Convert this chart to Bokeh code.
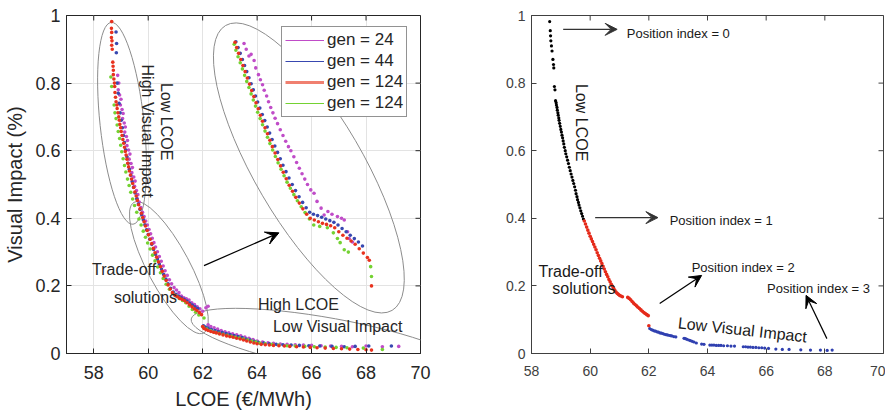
import math
from bokeh.plotting import figure
from bokeh.layouts import row
from bokeh.models import (Arrow, VeeHead, Label, FixedTicker, CustomJSTickFormatter,
                          Legend, LegendItem, Range1d, Title)
from bokeh.embed import file_html
from bokeh.resources import INLINE

FONT = "Liberation Sans"

# ---------------- data: left panel (LCOE in EUR/MWh, visual impact) ----------------
gen24_x = [58.88, 58.92, 58.90, 58.95, 59.00, 58.98, 59.04, 59.08, 59.06, 59.12, 59.16, 59.14, 59.20, 59.24, 59.22,
           59.28, 59.33, 59.30, 59.37, 59.42, 59.40, 59.47, 59.52, 59.50, 59.57, 59.62, 59.60, 59.67, 59.73, 59.79,
           59.85, 59.91, 59.97, 60.03, 60.09, 60.15, 60.21, 60.27, 60.34, 60.41, 60.48, 60.55, 60.62, 60.70, 60.78,
           60.86, 60.95, 61.04, 61.13, 61.22, 61.31, 61.40, 61.50, 61.60, 61.70, 61.80, 61.90, 62.00, 62.12, 62.20,
           62.20, 62.30, 62.42, 62.55, 62.68, 62.82, 62.96, 63.10, 63.25, 63.40, 63.55, 63.70, 63.85, 64.00, 64.20,
           64.40, 64.60, 64.85, 65.10, 65.40, 65.70, 66.00, 66.35, 66.70, 67.10, 67.50, 68.00, 68.60, 69.20]
gen24_y = [0.823, 0.800, 0.780, 0.765, 0.752, 0.735, 0.722, 0.710, 0.695, 0.682, 0.670, 0.655, 0.642, 0.630, 0.615,
           0.602, 0.590, 0.575, 0.562, 0.550, 0.535, 0.522, 0.510, 0.495, 0.482, 0.470, 0.458, 0.448, 0.432, 0.418,
           0.405, 0.392, 0.380, 0.367, 0.354, 0.341, 0.328, 0.315, 0.301, 0.287, 0.273, 0.259, 0.245, 0.231, 0.218,
           0.206, 0.195, 0.188, 0.180, 0.170, 0.165, 0.162, 0.158, 0.150, 0.145, 0.138, 0.132, 0.125, 0.135, 0.140,
           0.085, 0.080, 0.076, 0.072, 0.068, 0.064, 0.061, 0.058, 0.055, 0.052, 0.049, 0.045, 0.041, 0.037, 0.034,
           0.032, 0.030, 0.028, 0.027, 0.026, 0.025, 0.024, 0.023, 0.022, 0.021, 0.020, 0.022, 0.020, 0.021]

gen44_x = [58.82, 58.84, 58.83, 58.86, 58.90, 58.93, 58.97, 59.01, 59.05, 59.09, 59.13, 59.17, 59.22, 59.26, 59.31,
           59.36, 59.41, 59.46, 59.52, 59.58, 59.64, 59.70, 59.76, 59.82, 59.88, 59.94, 60.00, 60.06, 60.13, 60.20,
           60.27, 60.34, 60.41, 60.49, 60.57, 60.65, 60.73, 60.82, 60.92, 61.02, 61.12, 61.22, 61.32, 61.42, 61.52,
           61.62, 61.72, 61.82,
           62.03, 62.10, 62.20, 62.32, 62.45, 62.58, 62.72, 62.86, 63.00, 63.15, 63.30, 63.45, 63.60, 63.75, 63.90,
           64.05, 64.25, 64.45, 64.70, 64.95, 65.25, 65.55, 65.90, 66.30, 66.75, 67.20, 67.60, 68.10, 68.93]
gen44_y = [0.951, 0.917, 0.890, 0.800, 0.770, 0.740, 0.712, 0.690, 0.668, 0.645, 0.624, 0.603, 0.582, 0.563, 0.545,
           0.527, 0.509, 0.492, 0.475, 0.458, 0.442, 0.426, 0.411, 0.396, 0.381, 0.366, 0.352, 0.338, 0.323, 0.308,
           0.293, 0.279, 0.264, 0.249, 0.234, 0.220, 0.206, 0.193, 0.182, 0.175, 0.170, 0.165, 0.160, 0.155, 0.149,
           0.143, 0.138, 0.133,
           0.082, 0.078, 0.075, 0.071, 0.068, 0.065, 0.062, 0.059, 0.056, 0.053, 0.050, 0.047, 0.043, 0.040, 0.036,
           0.033, 0.031, 0.029, 0.027, 0.026, 0.025, 0.024, 0.023, 0.022, 0.021, 0.020, 0.021, 0.022, 0.022]

gen124_x = [58.66, 58.65, 58.66, 58.65, 58.67, 58.66, 58.68, 58.70, 58.71, 58.72, 58.72, 58.74, 58.76, 58.77, 58.78,
            58.80, 58.82, 58.85, 58.86, 58.89, 58.92, 58.94, 58.96, 58.99, 59.01, 59.04, 59.07, 59.10, 59.13, 59.16,
            59.19, 59.22, 59.25, 59.28, 59.31, 59.35, 59.39, 59.43, 59.47, 59.51, 59.56, 59.60, 59.65, 59.70, 59.75,
            59.80, 59.85, 59.90, 59.96, 60.01, 60.07, 60.13, 60.19, 60.25, 60.31, 60.38, 60.45, 60.52, 60.59, 60.66,
            60.73, 60.81, 60.89, 60.98, 61.07, 61.16, 61.25, 61.34, 61.43, 61.52, 61.61, 61.70, 61.79, 61.88, 61.96,
            62.00, 62.05, 62.12, 62.20, 62.30, 62.40, 62.50, 62.62, 62.75, 62.88, 63.00, 63.12, 63.25, 63.38, 63.50,
            63.62, 63.75, 63.88, 64.00, 64.15, 64.30, 64.45, 64.60, 64.80, 65.00, 65.20, 65.45, 65.70, 65.95, 66.20,
            66.50, 66.80, 67.10, 67.40, 67.70, 68.00, 68.20]
gen124_y = [0.982, 0.962, 0.950, 0.935, 0.925, 0.912, 0.900, 0.862, 0.850, 0.838, 0.825, 0.812, 0.800, 0.790, 0.772,
            0.758, 0.745, 0.735, 0.725, 0.712, 0.700, 0.690, 0.678, 0.668, 0.657, 0.645, 0.633, 0.622, 0.610, 0.598,
            0.587, 0.575, 0.563, 0.552, 0.540, 0.528, 0.516, 0.503, 0.491, 0.478, 0.466, 0.453, 0.440, 0.428, 0.415,
            0.402, 0.390, 0.377, 0.364, 0.351, 0.338, 0.325, 0.311, 0.298, 0.285, 0.271, 0.257, 0.243, 0.229, 0.216,
            0.203, 0.191, 0.180, 0.172, 0.168, 0.163, 0.160, 0.156, 0.150, 0.144, 0.138, 0.132, 0.127, 0.121, 0.115,
            0.080, 0.074, 0.071, 0.068, 0.065, 0.063, 0.061, 0.058, 0.055, 0.052, 0.050, 0.048, 0.045, 0.043, 0.040,
            0.037, 0.034, 0.031, 0.029, 0.027, 0.026, 0.025, 0.024, 0.023, 0.022, 0.021, 0.020, 0.019, 0.018, 0.017,
            0.016, 0.015, 0.014, 0.013, 0.012, 0.011, 0.010]

gen124b_x = [58.63, 58.66, 58.75, 58.78, 58.82, 58.86, 58.90, 58.95, 58.99, 59.03, 59.08, 59.13, 59.18, 59.24, 59.30,
             59.36, 59.43, 59.50, 59.58, 59.66, 59.74, 59.82, 59.90, 59.98, 60.07, 60.16, 60.25, 60.35, 60.45, 60.55,
             60.66, 60.78, 60.90, 61.02, 61.14, 61.26, 61.38, 61.50, 61.62, 61.74, 61.86, 62.05,
             62.02, 62.15, 62.30, 62.45, 62.60, 62.75, 62.90, 63.05, 63.20, 63.35, 63.50, 63.65, 63.80, 63.95, 64.10,
             64.30, 64.55, 64.80, 65.10, 65.40, 65.75, 66.10, 66.50, 66.90, 67.30, 67.90, 68.60]
gen124b_y = [0.818, 0.790, 0.735, 0.712, 0.695, 0.676, 0.657, 0.636, 0.616, 0.597, 0.576, 0.556, 0.537, 0.516, 0.497,
             0.477, 0.457, 0.438, 0.418, 0.398, 0.380, 0.362, 0.344, 0.327, 0.309, 0.291, 0.274, 0.256, 0.239, 0.222,
             0.205, 0.190, 0.178, 0.170, 0.163, 0.157, 0.150, 0.140, 0.130, 0.122, 0.114, 0.105,
             0.078, 0.072, 0.067, 0.063, 0.060, 0.057, 0.054, 0.051, 0.048, 0.046, 0.043, 0.040, 0.037, 0.034, 0.031,
             0.029, 0.027, 0.025, 0.023, 0.022, 0.021, 0.020, 0.019, 0.018, 0.017, 0.016, 0.012]

# magnified copy of the trade-off region (upper right of left panel)
zoom24_x = [63.52, 63.60, 63.70, 63.78, 63.89, 63.95, 64.05, 64.12, 64.20, 64.26, 64.35, 64.42, 64.50, 64.58, 64.66,
            64.75, 64.85, 64.95, 65.05, 65.15, 65.24, 65.35, 65.45, 65.55, 65.65, 65.75, 65.85, 65.97, 66.09, 66.20,
            66.35, 66.46, 66.60, 66.75, 66.95, 67.10, 67.20, 67.32, 67.38, 67.50]
zoom24_y = [0.917, 0.900, 0.880, 0.885, 0.867, 0.845, 0.825, 0.810, 0.795, 0.779, 0.762, 0.745, 0.728, 0.712, 0.696,
            0.680, 0.662, 0.645, 0.628, 0.612, 0.600, 0.582, 0.565, 0.548, 0.532, 0.516, 0.500, 0.484, 0.474, 0.450,
            0.430, 0.410, 0.420, 0.412, 0.405, 0.400, 0.395, 0.360, 0.340, 0.330]
zoom44_x = [63.22, 63.30, 63.38, 63.46, 63.54, 63.62, 63.70, 63.78, 63.86, 63.94, 64.02, 64.10, 64.19, 64.28, 64.37,
            64.46, 64.55, 64.65, 64.75, 64.85, 64.95, 65.06, 65.17, 65.29, 65.41, 65.54, 65.67, 65.80, 65.93, 66.07,
            66.22, 66.37, 66.52, 66.67, 66.82, 66.97, 67.12, 67.27, 67.42, 67.57, 67.72, 67.87]
zoom44_y = [0.922, 0.905, 0.888, 0.870, 0.852, 0.834, 0.816, 0.798, 0.780, 0.762, 0.744, 0.726, 0.707, 0.689, 0.670,
            0.652, 0.633, 0.614, 0.595, 0.576, 0.557, 0.538, 0.519, 0.500, 0.482, 0.464, 0.447, 0.431, 0.418, 0.412,
            0.408, 0.403, 0.398, 0.393, 0.388, 0.380, 0.370, 0.360, 0.350, 0.340, 0.330, 0.318]
zoom124_x = [63.19, 63.25, 63.32, 63.40, 63.48, 63.56, 63.64, 63.72, 63.80, 63.88, 63.96, 64.04, 64.12, 64.20, 64.29,
             64.38, 64.47, 64.56, 64.66, 64.76, 64.86, 64.96, 65.07, 65.18, 65.30, 65.42, 65.55, 65.68, 65.82, 65.95,
             66.10, 66.25, 66.40, 66.55, 66.70, 66.85, 67.00, 67.15, 67.30, 67.45, 67.60, 67.75, 67.90, 68.05, 68.12,
             68.20]
zoom124_y = [0.921, 0.905, 0.888, 0.870, 0.852, 0.834, 0.815, 0.797, 0.778, 0.760, 0.742, 0.724, 0.705, 0.687, 0.668,
             0.650, 0.631, 0.612, 0.593, 0.574, 0.555, 0.536, 0.517, 0.498, 0.480, 0.462, 0.445, 0.428, 0.412, 0.400,
             0.395, 0.390, 0.385, 0.382, 0.378, 0.372, 0.360, 0.350, 0.341, 0.333, 0.323, 0.310, 0.297, 0.284, 0.276,
             0.200]
zoom124b_x = [63.16, 63.22, 63.30, 63.38, 63.46, 63.54, 63.62, 63.70, 63.78, 63.86, 63.94, 64.02, 64.11, 64.20, 64.29,
              64.38, 64.47, 64.57, 64.67, 64.77, 64.88, 64.99, 65.10, 65.22, 65.35, 65.48, 65.62, 65.76, 65.92, 66.08,
              66.30, 66.58, 66.80, 66.95, 67.05, 67.20, 67.35, 68.17, 68.20]
zoom124b_y = [0.915, 0.897, 0.878, 0.860, 0.842, 0.823, 0.805, 0.787, 0.768, 0.750, 0.732, 0.714, 0.695, 0.677, 0.658,
              0.640, 0.621, 0.602, 0.583, 0.564, 0.545, 0.526, 0.507, 0.489, 0.470, 0.452, 0.434, 0.417, 0.398, 0.380,
              0.376, 0.372, 0.357, 0.340, 0.328, 0.307, 0.300, 0.257, 0.228]

legend_labels = ["gen = 24", "gen = 44", "gen = 124", "gen = 124"]

# ---------------- data: right panel (final front by position index) ----------------
pos0_x = [58.62, 58.64, 58.65, 58.66, 58.68, 58.70, 58.73, 58.75, 58.76, 58.78, 58.80, 58.82, 58.84, 58.85, 58.87,
          58.88, 58.90, 58.91, 58.93, 58.94, 58.96, 58.98, 59.00, 59.02, 59.04, 59.06, 59.08, 59.10, 59.12, 59.15,
          59.17, 59.20, 59.23, 59.26, 59.29, 59.32, 59.35, 59.38, 59.41, 59.44, 59.47, 59.50, 59.52, 59.55, 59.57,
          59.60, 59.62, 59.65, 59.68, 59.71, 59.74, 59.77]
pos0_y = [0.982, 0.955, 0.940, 0.925, 0.910, 0.895, 0.870, 0.855, 0.845, 0.790, 0.780, 0.748, 0.742, 0.735, 0.728,
          0.720, 0.712, 0.705, 0.697, 0.690, 0.681, 0.672, 0.663, 0.655, 0.646, 0.638, 0.629, 0.620, 0.610, 0.600,
          0.591, 0.582, 0.572, 0.562, 0.551, 0.541, 0.531, 0.522, 0.512, 0.503, 0.493, 0.483, 0.473, 0.464, 0.455,
          0.447, 0.439, 0.431, 0.422, 0.414, 0.406, 0.398]
pos1_x = [59.80, 59.84, 59.88, 59.92, 59.96, 60.00, 60.04, 60.08, 60.12, 60.16, 60.20, 60.24, 60.28, 60.32, 60.36,
          60.40, 60.44, 60.48, 60.52, 60.56, 60.60, 60.64, 60.68, 60.72, 60.76, 60.80, 60.84, 60.88, 60.92, 60.96,
          61.00, 61.05, 61.10, 61.28, 61.33, 61.38, 61.43, 61.48, 61.53, 61.58, 61.63, 61.68, 61.73, 61.78, 61.83,
          61.88, 61.93, 61.98, 62.00]
pos1_y = [0.392, 0.383, 0.374, 0.365, 0.356, 0.347, 0.339, 0.331, 0.323, 0.315, 0.307, 0.298, 0.290, 0.282, 0.274,
          0.266, 0.258, 0.250, 0.242, 0.234, 0.227, 0.219, 0.212, 0.205, 0.199, 0.193, 0.187, 0.182, 0.178, 0.175,
          0.172, 0.170, 0.168, 0.166, 0.163, 0.159, 0.154, 0.149, 0.145, 0.141, 0.137, 0.133, 0.129, 0.125, 0.121,
          0.118, 0.115, 0.112, 0.082]
pos23_x = [62.03, 62.08, 62.13, 62.18, 62.23, 62.28, 62.33, 62.38, 62.43, 62.48, 62.53, 62.58, 62.63, 62.68, 62.73,
           62.78, 62.85, 62.92, 63.20, 63.25, 63.30, 63.36, 63.42, 63.48, 63.54, 63.62, 63.80, 63.88, 64.08, 64.15,
           64.22, 64.30, 64.38, 64.46, 64.55, 64.68, 64.80, 64.92, 65.22, 65.30, 65.38, 65.46, 65.55, 65.65, 65.75,
           65.85, 65.95, 66.08, 66.33, 66.55, 66.78, 67.18, 67.51, 67.85, 68.08, 68.25]
pos23_y = [0.074, 0.071, 0.069, 0.067, 0.066, 0.064, 0.063, 0.061, 0.060, 0.059, 0.057, 0.056, 0.055, 0.054, 0.053,
           0.052, 0.050, 0.049, 0.045, 0.044, 0.042, 0.040, 0.038, 0.036, 0.034, 0.031, 0.028, 0.027, 0.025, 0.025,
           0.025, 0.024, 0.024, 0.024, 0.023, 0.023, 0.022, 0.022, 0.020, 0.020, 0.019, 0.019, 0.018, 0.018, 0.017,
           0.017, 0.016, 0.015, 0.013, 0.012, 0.012, 0.011, 0.010, 0.010, 0.009, 0.010]

x_ticks = [58, 60, 62, 64, 66, 68, 70]
y_ticks = [0, 0.2, 0.4, 0.6, 0.8, 1]

MAG = "#C04CC8"
BLUE = "#3848B0"
RED = "#E8321E"
GREEN = "#74D232"
AX = "#262626"
ELL = "#8C8C8C"

yfmt = CustomJSTickFormatter(code="return Number(tick.toFixed(1)).toString();")


def style_axes(p, color, tick_size, xmax, ymax):
    for ax in p.xaxis + p.yaxis:
        ax.major_tick_in = 5
        ax.major_tick_out = 0
        ax.minor_tick_line_color = None
        ax.axis_line_color = color
        ax.major_tick_line_color = color
        ax.major_label_text_color = color
        ax.major_label_text_font = FONT
        ax.major_label_text_font_size = tick_size
        ax.axis_label_text_font = FONT
        ax.axis_label_text_font_style = "normal"
        ax.axis_label_text_color = color
    p.xaxis.ticker = FixedTicker(ticks=x_ticks)
    p.yaxis.ticker = FixedTicker(ticks=y_ticks)
    p.yaxis.formatter = yfmt
    p.outline_line_color = color
    # box ticks on the top and right edges (inward, like the bottom/left ones)
    p.ray(x=x_ticks, y=[ymax] * len(x_ticks), length=5, angle=-math.pi / 2,
          length_units="screen", line_color=color, line_width=1)
    p.ray(x=[xmax] * len(y_ticks), y=y_ticks, length=5, angle=math.pi,
          length_units="screen", line_color=color, line_width=1)


def lab(p, x, y, text, size, angle=0.0, align="left", color=AX):
    p.add_layout(Label(x=x, y=y, text=text, angle=angle, text_align=align, text_baseline="middle",
                       text_font=FONT, text_font_size=size, text_color=color))


# ---------------- left figure ----------------
p1 = figure(width=470, height=413, x_range=Range1d(57, 70), y_range=Range1d(0, 1),
            output_backend="svg", toolbar_location=None,
            min_border_left=66, min_border_right=50, min_border_top=15, min_border_bottom=59)
p1.yaxis.axis_label = "Visual Impact (%)"
p1.yaxis.axis_label_text_font_size = "20px"
style_axes(p1, AX, "18px", 70, 1)
p1.xaxis.major_label_standoff = 12
p1.yaxis.major_label_standoff = 6
p1.yaxis.axis_label_standoff = 6
p1.grid.grid_line_color = "#E3E3E3"
p1.add_layout(Title(text="LCOE (€/MWh)", align="center", text_font=FONT, text_font_size="20px",
                    text_font_style="normal", text_color=AX, standoff=8), "below")

# ellipses (annotation outlines)
ell_x = [59.04, 60.76, 65.90, 66.71]
ell_y = [0.681, 0.254, 0.549, 0.027]
ell_w = [44, 42, 108, 284]
ell_h = [203, 148, 330, 52]
ell_a = [0.108, 0.49, 0.529, -0.18]
p1.ellipse(x=ell_x, y=ell_y, width=ell_w, height=ell_h, angle=ell_a,
           width_units="screen", height_units="screen",
           fill_color=None, line_color=ELL, line_width=1)

ms = 3.6
for xs, ys, c in ((gen24_x, gen24_y, MAG), (zoom24_x, zoom24_y, MAG),
                  (gen44_x, gen44_y, BLUE), (zoom44_x, zoom44_y, BLUE),
                  (gen124b_x, gen124b_y, GREEN), (zoom124b_x, zoom124b_y, GREEN),
                  (gen124_x, gen124_y, RED), (zoom124_x, zoom124_y, RED)):
    p1.scatter(xs, ys, size=ms, fill_color=c, line_color=None)

# legend entries drawn as lines (renderers kept outside the visible range)
hid_x = [0, 1]
hid_y = [-5, -5]
l1 = p1.line(hid_x, hid_y, line_color=MAG, line_width=1.2)
l2 = p1.line(hid_x, hid_y, line_color=BLUE, line_width=1.2)
l3 = p1.line(hid_x, hid_y, line_color="#F08070", line_width=3)
l4 = p1.line(hid_x, hid_y, line_color=GREEN, line_width=1.2)
leg = Legend(items=[LegendItem(label=legend_labels[i], renderers=[r]) for i, r in enumerate((l1, l2, l3, l4))],
             location=(215, 236), glyph_width=39, glyph_height=20, label_height=20, spacing=1,
             padding=3, margin=0, label_standoff=3, label_text_font=FONT, label_text_font_size="17px",
             label_text_color=AX, border_line_color=AX, border_line_width=1,
             background_fill_color="white", background_fill_alpha=1)
p1.add_layout(leg)

p1.add_layout(Arrow(end=VeeHead(size=13, fill_color="black", line_color="black"),
                    x_start=62.05, y_start=0.26, x_end=64.8, y_end=0.357,
                    line_color="black", line_width=1.2))

lab(p1, 60.66, 0.686, "Low LCOE", "16px", -math.pi / 2, "center")
lab(p1, 59.97, 0.658, "High Visual Impact", "16px", -math.pi / 2, "center")
lab(p1, 57.94, 0.248, "Trade-off", "16px")
lab(p1, 58.74, 0.165, "solutions", "16px")
lab(p1, 64.03, 0.145, "High LCOE", "16px")
lab(p1, 64.58, 0.080, "Low Visual Impact", "16px")

# ---------------- right figure ----------------
AX2 = "#404040"
p2 = figure(width=415, height=413, x_range=Range1d(58, 70), y_range=Range1d(0, 1),
            output_backend="svg", toolbar_location=None,
            min_border_left=61, min_border_right=2, min_border_top=15, min_border_bottom=60)
style_axes(p2, AX2, "14px", 70, 1)
p2.xaxis.major_label_standoff = 12
p2.yaxis.major_label_standoff = 6
p2.grid.visible = False

p2.scatter(pos0_x, pos0_y, size=3.2, fill_color="black", line_color=None)
p2.scatter(pos1_x, pos1_y, size=3.6, fill_color="#E52A1A", line_color=None)
p2.scatter(pos23_x, pos23_y, size=3.2, fill_color="#3040B0", line_color=None)

arrows = [(59.08, 0.959, 60.92, 0.959), (60.17, 0.402, 62.31, 0.402),
          (62.37, 0.148, 63.80, 0.231), (68.07, 0.044, 67.36, 0.172)]
for i, (xs, ys, xe, ye) in enumerate(arrows):
    col = "#333333" if i < 2 else "black"
    p2.add_layout(Arrow(end=VeeHead(size=12, fill_color=col, line_color=col),
                        x_start=xs, y_start=ys, x_end=xe, y_end=ye,
                        line_color=col, line_width=1.2))

lab(p2, 61.25, 0.947, "Position index = 0", "13px", color="#1A1A1A")
lab(p2, 62.71, 0.393, "Position index = 1", "13px", color="#1A1A1A")
lab(p2, 63.46, 0.254, "Position index = 2", "13px", color="#1A1A1A")
lab(p2, 66.03, 0.192, "Position index = 3", "13px", color="#1A1A1A")
lab(p2, 59.69, 0.683, "Low LCOE", "16px", -math.pi / 2, "center", "#1A1A1A")
lab(p2, 58.24, 0.243, "Trade-off", "16px", color="#1A1A1A")
lab(p2, 58.71, 0.192, "solutions", "16px", color="#1A1A1A")
lab(p2, 65.19, 0.070, "Low Visual Impact", "16px", -0.11, "center", "#1A1A1A")

layout = row(p1, p2)
open("out.html", "w").write(file_html(layout, INLINE))
